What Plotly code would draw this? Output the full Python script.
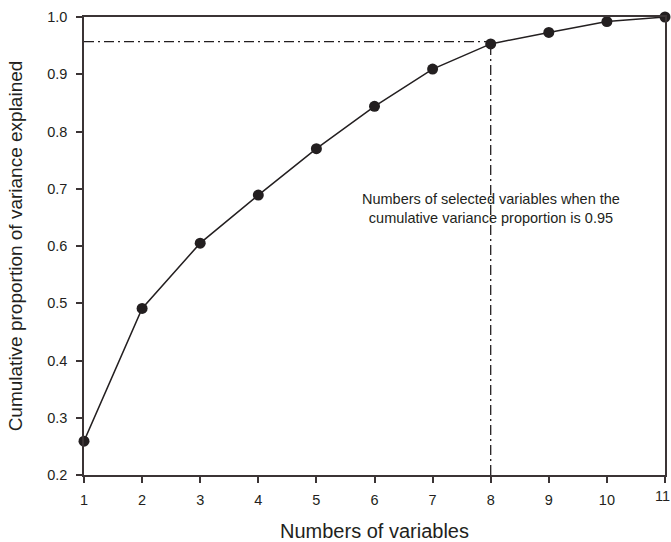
import plotly.graph_objects as go

n_vars = [1, 2, 3, 4, 5, 6, 7, 8, 9, 10, 11]
cum_prop = [0.259, 0.491, 0.605, 0.689, 0.770, 0.844, 0.909, 0.953, 0.973, 0.992, 1.0]
threshold_x = 8
threshold_y = 0.957
x_ticks = list(range(1, 12))
y_ticks = [0.2, 0.3, 0.4, 0.5, 0.6, 0.7, 0.8, 0.9, 1.0]
y_tick_text = ["0.2", "0.3", "0.4", "0.5", "0.6", "0.7", "0.8", "0.9", "1.0"]

ink = "#231f20"
axis_col = "#3b3435"
font = "Liberation Sans, Arial, sans-serif"

fig = go.Figure()
# dash-dot guides
fig.add_trace(go.Scatter(x=[n_vars[0], threshold_x], y=[threshold_y, threshold_y], mode="lines",
                         line=dict(color=ink, width=1.3, dash="10px,4px,2px,4px"),
                         hoverinfo="skip", showlegend=False))
fig.add_trace(go.Scatter(x=[threshold_x, threshold_x], y=[y_ticks[0], threshold_y], mode="lines",
                         line=dict(color=ink, width=1.3, dash="10px,4px,2px,4px"),
                         hoverinfo="skip", showlegend=False))
fig.add_trace(go.Scatter(x=n_vars, y=cum_prop, mode="lines+markers",
                         line=dict(color=ink, width=1.5),
                         marker=dict(color=ink, size=11),
                         cliponaxis=False, showlegend=False))

fig.add_annotation(x=threshold_x, y=0.666, xref="x", yref="y",
                   text="Numbers of selected variables when the<br>cumulative variance proportion is 0.95",
                   showarrow=False, font=dict(family=font, size=14.5, color=ink),
                   align="center")

# last x tick label (plotly hides it because it overflows the page edge)
fig.add_annotation(x=x_ticks[-1], y=0, xref="x", yref="paper", yanchor="top", yshift=-11, xshift=-3,
                   text=str(x_ticks[-1]), showarrow=False,
                   font=dict(family=font, size=14.5, color=ink))

fig.update_layout(
    width=671, height=542,
    margin=dict(l=84, r=6, t=17, b=67),
    plot_bgcolor="white", paper_bgcolor="white",
    font=dict(family=font, color=ink),
)
fig.update_xaxes(range=[1, 11], tickvals=x_ticks, ticks="outside", ticklen=6, tickwidth=1.5,
                 tickcolor=axis_col, showline=True, linecolor=axis_col, linewidth=1.5,
                 mirror=True, showgrid=False, zeroline=False, automargin=False,
                 ticklabelstandoff=5,
                 tickfont=dict(size=14.5, family=font, color=ink),
                 title=dict(text="Numbers of variables", font=dict(size=20, family=font, color=ink), standoff=20))
fig.update_yaxes(range=[0.2, 1.0], tickvals=y_ticks, ticktext=y_tick_text, ticks="outside", ticklen=6,
                 tickwidth=1.5, tickcolor=axis_col, showline=True, linecolor=axis_col, linewidth=1.5,
                 mirror=True, showgrid=False, zeroline=False, automargin=False,
                 ticklabelstandoff=6,
                 tickfont=dict(size=14.5, family=font, color=ink),
                 title=dict(text="Cumulative proportion of variance explained",
                            font=dict(size=19, family=font, color=ink), standoff=20))

fig.write_html("out.html")
